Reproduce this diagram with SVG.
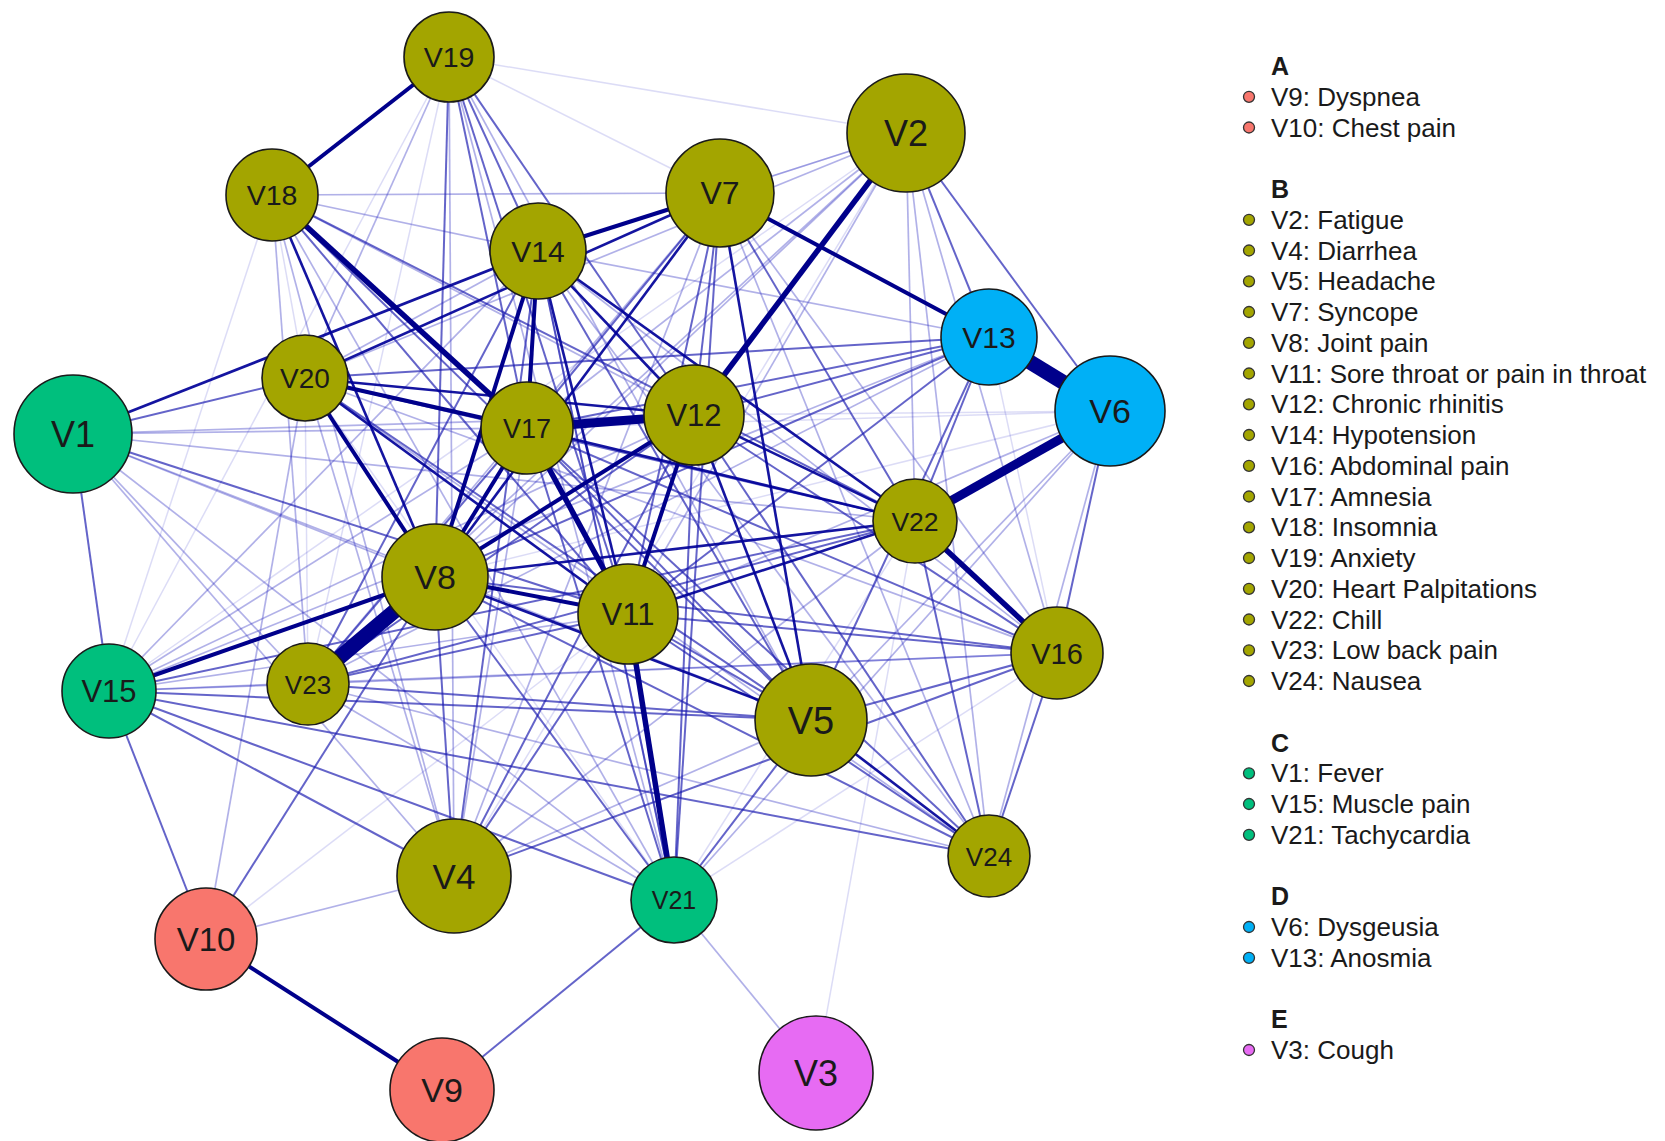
<svg xmlns="http://www.w3.org/2000/svg" width="1665" height="1141" viewBox="0 0 1665 1141">
<style>
text{font-family:"Liberation Sans",Arial,sans-serif;fill:#1a1a1a}
.n text{text-anchor:middle}
circle.nd{stroke:#1a1a1a;stroke-width:1.6}
.A{fill:#F8766D}.B{fill:#A3A500}.C{fill:#00BF7D}.D{fill:#00B0F6}.E{fill:#E76BF3}
line{stroke-linecap:butt}
.c1{stroke:#3030c8;stroke-opacity:.17;stroke-width:1.5}
.c2{stroke:#2828c0;stroke-opacity:.36;stroke-width:1.7}
.c3{stroke:#1a1ab0;stroke-opacity:.68;stroke-width:2}
.c4{stroke:#000098;stroke-opacity:.92;stroke-width:2.6}
.c5{stroke:#00008b;stroke-width:4}
.c6{stroke:#00008b;stroke-width:5.5}
.c7{stroke:#00008b;stroke-width:9}
.c8{stroke:#00008b;stroke-width:15}
.lg text{font-size:26px}
.lg .h{font-weight:bold;font-size:25px}
.lg circle{stroke:#333;stroke-width:1.3}
</style>
<rect width="1665" height="1141" fill="#fff"/>
<g id="edges">
<g class="c1">
<line x1="449" y1="57" x2="906" y2="133"/>
<line x1="449" y1="57" x2="720" y2="193"/>
<line x1="816" y1="1073" x2="915" y2="521"/>
<line x1="906" y1="133" x2="538" y2="251"/>
<line x1="906" y1="133" x2="109" y2="691"/>
<line x1="906" y1="133" x2="454" y2="876"/>
<line x1="1110" y1="411" x2="527" y2="428"/>
<line x1="1110" y1="411" x2="694" y2="415"/>
<line x1="449" y1="57" x2="308" y2="684"/>
<line x1="449" y1="57" x2="109" y2="691"/>
<line x1="305" y1="378" x2="308" y2="684"/>
<line x1="305" y1="378" x2="674" y2="900"/>
<line x1="674" y1="900" x2="915" y2="521"/>
<line x1="674" y1="900" x2="1057" y2="653"/>
<line x1="272" y1="195" x2="109" y2="691"/>
<line x1="272" y1="195" x2="305" y2="378"/>
<line x1="1110" y1="411" x2="435" y2="577"/>
<line x1="206" y1="939" x2="628" y2="614"/>
<line x1="989" y1="337" x2="1057" y2="653"/>
</g>
<g class="c2">
<line x1="73" y1="434" x2="527" y2="428"/>
<line x1="73" y1="434" x2="454" y2="876"/>
<line x1="73" y1="434" x2="811" y2="720"/>
<line x1="206" y1="939" x2="454" y2="876"/>
<line x1="906" y1="133" x2="915" y2="521"/>
<line x1="906" y1="133" x2="720" y2="193"/>
<line x1="906" y1="133" x2="989" y2="856"/>
<line x1="906" y1="133" x2="1057" y2="653"/>
<line x1="906" y1="133" x2="527" y2="428"/>
<line x1="906" y1="133" x2="435" y2="577"/>
<line x1="906" y1="133" x2="305" y2="378"/>
<line x1="906" y1="133" x2="308" y2="684"/>
<line x1="816" y1="1073" x2="674" y2="900"/>
<line x1="1110" y1="411" x2="811" y2="720"/>
<line x1="1110" y1="411" x2="628" y2="614"/>
<line x1="1110" y1="411" x2="989" y2="856"/>
<line x1="674" y1="900" x2="1110" y2="411"/>
<line x1="449" y1="57" x2="305" y2="378"/>
<line x1="449" y1="57" x2="811" y2="720"/>
<line x1="449" y1="57" x2="674" y2="900"/>
<line x1="449" y1="57" x2="454" y2="876"/>
<line x1="272" y1="195" x2="720" y2="193"/>
<line x1="272" y1="195" x2="538" y2="251"/>
<line x1="272" y1="195" x2="308" y2="684"/>
<line x1="272" y1="195" x2="454" y2="876"/>
<line x1="272" y1="195" x2="674" y2="900"/>
<line x1="109" y1="691" x2="527" y2="428"/>
<line x1="109" y1="691" x2="538" y2="251"/>
<line x1="109" y1="691" x2="694" y2="415"/>
<line x1="109" y1="691" x2="628" y2="614"/>
<line x1="109" y1="691" x2="1057" y2="653"/>
<line x1="109" y1="691" x2="308" y2="684"/>
<line x1="308" y1="684" x2="1057" y2="653"/>
<line x1="308" y1="684" x2="989" y2="856"/>
<line x1="308" y1="684" x2="720" y2="193"/>
<line x1="308" y1="684" x2="674" y2="900"/>
<line x1="454" y1="876" x2="527" y2="428"/>
<line x1="454" y1="876" x2="720" y2="193"/>
<line x1="454" y1="876" x2="305" y2="378"/>
<line x1="454" y1="876" x2="915" y2="521"/>
<line x1="454" y1="876" x2="811" y2="720"/>
<line x1="989" y1="337" x2="538" y2="251"/>
<line x1="989" y1="337" x2="109" y2="691"/>
<line x1="989" y1="337" x2="308" y2="684"/>
<line x1="538" y1="251" x2="305" y2="378"/>
<line x1="538" y1="251" x2="1057" y2="653"/>
<line x1="538" y1="251" x2="674" y2="900"/>
<line x1="989" y1="856" x2="538" y2="251"/>
<line x1="989" y1="856" x2="305" y2="378"/>
<line x1="206" y1="939" x2="305" y2="378"/>
<line x1="73" y1="434" x2="308" y2="684"/>
<line x1="73" y1="434" x2="674" y2="900"/>
<line x1="73" y1="434" x2="435" y2="577"/>
<line x1="73" y1="434" x2="694" y2="415"/>
<line x1="73" y1="434" x2="915" y2="521"/>
<line x1="1057" y1="653" x2="305" y2="378"/>
<line x1="694" y1="415" x2="272" y2="195"/>
<line x1="720" y1="193" x2="1057" y2="653"/>
<line x1="720" y1="193" x2="989" y2="856"/>
<line x1="628" y1="614" x2="906" y2="133"/>
</g>
<g class="c3">
<line x1="73" y1="434" x2="305" y2="378"/>
<line x1="73" y1="434" x2="109" y2="691"/>
<line x1="109" y1="691" x2="206" y2="939"/>
<line x1="206" y1="939" x2="435" y2="577"/>
<line x1="442" y1="1090" x2="674" y2="900"/>
<line x1="454" y1="876" x2="538" y2="251"/>
<line x1="454" y1="876" x2="694" y2="415"/>
<line x1="454" y1="876" x2="628" y2="614"/>
<line x1="454" y1="876" x2="435" y2="577"/>
<line x1="454" y1="876" x2="109" y2="691"/>
<line x1="454" y1="876" x2="1057" y2="653"/>
<line x1="109" y1="691" x2="811" y2="720"/>
<line x1="109" y1="691" x2="989" y2="856"/>
<line x1="109" y1="691" x2="674" y2="900"/>
<line x1="811" y1="720" x2="538" y2="251"/>
<line x1="811" y1="720" x2="527" y2="428"/>
<line x1="811" y1="720" x2="1057" y2="653"/>
<line x1="811" y1="720" x2="272" y2="195"/>
<line x1="811" y1="720" x2="305" y2="378"/>
<line x1="628" y1="614" x2="989" y2="856"/>
<line x1="628" y1="614" x2="1057" y2="653"/>
<line x1="989" y1="337" x2="694" y2="415"/>
<line x1="989" y1="337" x2="527" y2="428"/>
<line x1="989" y1="337" x2="305" y2="378"/>
<line x1="989" y1="337" x2="435" y2="577"/>
<line x1="989" y1="337" x2="628" y2="614"/>
<line x1="989" y1="337" x2="811" y2="720"/>
<line x1="989" y1="337" x2="915" y2="521"/>
<line x1="906" y1="133" x2="989" y2="337"/>
<line x1="906" y1="133" x2="1110" y2="411"/>
<line x1="1110" y1="411" x2="1057" y2="653"/>
<line x1="1057" y1="653" x2="989" y2="856"/>
<line x1="915" y1="521" x2="989" y2="856"/>
<line x1="915" y1="521" x2="305" y2="378"/>
<line x1="915" y1="521" x2="272" y2="195"/>
<line x1="915" y1="521" x2="308" y2="684"/>
<line x1="915" y1="521" x2="109" y2="691"/>
<line x1="449" y1="57" x2="435" y2="577"/>
<line x1="449" y1="57" x2="538" y2="251"/>
<line x1="449" y1="57" x2="694" y2="415"/>
<line x1="449" y1="57" x2="628" y2="614"/>
<line x1="449" y1="57" x2="527" y2="428"/>
<line x1="720" y1="193" x2="674" y2="900"/>
<line x1="720" y1="193" x2="628" y2="614"/>
<line x1="720" y1="193" x2="527" y2="428"/>
<line x1="720" y1="193" x2="915" y2="521"/>
<line x1="720" y1="193" x2="694" y2="415"/>
<line x1="527" y1="428" x2="989" y2="856"/>
<line x1="694" y1="415" x2="989" y2="856"/>
<line x1="435" y1="577" x2="1057" y2="653"/>
<line x1="435" y1="577" x2="989" y2="856"/>
<line x1="308" y1="684" x2="694" y2="415"/>
<line x1="308" y1="684" x2="527" y2="428"/>
<line x1="308" y1="684" x2="628" y2="614"/>
<line x1="308" y1="684" x2="538" y2="251"/>
<line x1="308" y1="684" x2="811" y2="720"/>
<line x1="674" y1="900" x2="435" y2="577"/>
<line x1="674" y1="900" x2="527" y2="428"/>
<line x1="674" y1="900" x2="694" y2="415"/>
<line x1="674" y1="900" x2="538" y2="251"/>
<line x1="674" y1="900" x2="811" y2="720"/>
<line x1="272" y1="195" x2="628" y2="614"/>
<line x1="73" y1="434" x2="628" y2="614"/>
<line x1="1057" y1="653" x2="694" y2="415"/>
<line x1="1057" y1="653" x2="527" y2="428"/>
<line x1="811" y1="720" x2="628" y2="614"/>
</g>
<g class="c4">
<line x1="538" y1="251" x2="628" y2="614"/>
<line x1="538" y1="251" x2="694" y2="415"/>
<line x1="305" y1="378" x2="694" y2="415"/>
<line x1="305" y1="378" x2="720" y2="193"/>
<line x1="73" y1="434" x2="538" y2="251"/>
<line x1="305" y1="378" x2="628" y2="614"/>
<line x1="435" y1="577" x2="915" y2="521"/>
<line x1="694" y1="415" x2="915" y2="521"/>
<line x1="527" y1="428" x2="915" y2="521"/>
<line x1="720" y1="193" x2="435" y2="577"/>
<line x1="720" y1="193" x2="811" y2="720"/>
<line x1="811" y1="720" x2="989" y2="856"/>
<line x1="538" y1="251" x2="915" y2="521"/>
<line x1="694" y1="415" x2="811" y2="720"/>
<line x1="272" y1="195" x2="435" y2="577"/>
<line x1="628" y1="614" x2="915" y2="521"/>
<line x1="435" y1="577" x2="811" y2="720"/>
</g>
<g class="c5">
<line x1="449" y1="57" x2="272" y2="195"/>
<line x1="206" y1="939" x2="442" y2="1090"/>
<line x1="435" y1="577" x2="109" y2="691"/>
<line x1="694" y1="415" x2="628" y2="614"/>
<line x1="435" y1="577" x2="694" y2="415"/>
<line x1="435" y1="577" x2="527" y2="428"/>
<line x1="435" y1="577" x2="538" y2="251"/>
<line x1="538" y1="251" x2="720" y2="193"/>
<line x1="538" y1="251" x2="527" y2="428"/>
<line x1="305" y1="378" x2="527" y2="428"/>
<line x1="435" y1="577" x2="628" y2="614"/>
<line x1="720" y1="193" x2="989" y2="337"/>
<line x1="305" y1="378" x2="435" y2="577"/>
</g>
<g class="c6">
<line x1="272" y1="195" x2="527" y2="428"/>
<line x1="915" y1="521" x2="1057" y2="653"/>
<line x1="628" y1="614" x2="674" y2="900"/>
<line x1="906" y1="133" x2="694" y2="415"/>
<line x1="527" y1="428" x2="628" y2="614"/>
</g>
<g class="c7">
<line x1="1110" y1="411" x2="915" y2="521"/>
<line x1="527" y1="428" x2="694" y2="415"/>
</g>
<g class="c8">
<line x1="989" y1="337" x2="1110" y2="411"/>
<line x1="435" y1="577" x2="308" y2="684"/>
</g>
</g>
<g class="n">
<g id="V1"><circle class="nd C" cx="73" cy="434" r="59"/><text x="73" y="447" font-size="36">V1</text></g>
<g id="V2"><circle class="nd B" cx="906" cy="133" r="59"/><text x="906" y="146" font-size="36">V2</text></g>
<g id="V3"><circle class="nd E" cx="816" cy="1073" r="57"/><text x="816" y="1086" font-size="36">V3</text></g>
<g id="V4"><circle class="nd B" cx="454" cy="876" r="57"/><text x="454" y="889" font-size="35">V4</text></g>
<g id="V5"><circle class="nd B" cx="811" cy="720" r="56"/><text x="811" y="734" font-size="38">V5</text></g>
<g id="V6"><circle class="nd D" cx="1110" cy="411" r="55"/><text x="1110" y="423" font-size="34">V6</text></g>
<g id="V7"><circle class="nd B" cx="720" cy="193" r="54"/><text x="720" y="204" font-size="32">V7</text></g>
<g id="V8"><circle class="nd B" cx="435" cy="577" r="53"/><text x="435" y="589" font-size="34">V8</text></g>
<g id="V9"><circle class="nd A" cx="442" cy="1090" r="52"/><text x="442" y="1102" font-size="34">V9</text></g>
<g id="V10"><circle class="nd A" cx="206" cy="939" r="51"/><text x="206" y="951" font-size="33">V10</text></g>
<g id="V11"><circle class="nd B" cx="628" cy="614" r="50"/><text x="628" y="625" font-size="31">V11</text></g>
<g id="V12"><circle class="nd B" cx="694" cy="415" r="50"/><text x="694" y="426" font-size="31">V12</text></g>
<g id="V13"><circle class="nd D" cx="989" cy="337" r="48"/><text x="989" y="348" font-size="30">V13</text></g>
<g id="V14"><circle class="nd B" cx="538" cy="251" r="48"/><text x="538" y="262" font-size="30">V14</text></g>
<g id="V15"><circle class="nd C" cx="109" cy="691" r="47"/><text x="109" y="702" font-size="31">V15</text></g>
<g id="V16"><circle class="nd B" cx="1057" cy="653" r="46"/><text x="1057" y="664" font-size="29">V16</text></g>
<g id="V17"><circle class="nd B" cx="527" cy="428" r="46"/><text x="527" y="438" font-size="27">V17</text></g>
<g id="V18"><circle class="nd B" cx="272" cy="195" r="46"/><text x="272" y="205" font-size="28.5">V18</text></g>
<g id="V19"><circle class="nd B" cx="449" cy="57" r="45"/><text x="449" y="67" font-size="28.5">V19</text></g>
<g id="V20"><circle class="nd B" cx="305" cy="378" r="43"/><text x="305" y="388" font-size="28">V20</text></g>
<g id="V21"><circle class="nd C" cx="674" cy="900" r="43"/><text x="674" y="909" font-size="25">V21</text></g>
<g id="V22"><circle class="nd B" cx="915" cy="521" r="42"/><text x="915" y="531" font-size="26.5">V22</text></g>
<g id="V23"><circle class="nd B" cx="308" cy="684" r="41"/><text x="308" y="694" font-size="26">V23</text></g>
<g id="V24"><circle class="nd B" cx="989" cy="856" r="41"/><text x="989" y="866" font-size="26">V24</text></g>
</g>
<g id="legend" class="lg">
<text class="h" x="1271" y="75">A</text>
<circle class="A" cx="1249" cy="96.8" r="5.5"/><text x="1271" y="106">V9: Dyspnea</text>
<circle class="A" cx="1249" cy="127.5" r="5.5"/><text x="1271" y="136.5">V10: Chest pain</text>
<text class="h" x="1271" y="198">B</text>
<circle class="B" cx="1249" cy="219.8" r="5.5"/><text x="1271" y="229">V2: Fatigue</text>
<circle class="B" cx="1249" cy="250.5" r="5.5"/><text x="1271" y="259.5">V4: Diarrhea</text>
<circle class="B" cx="1249" cy="281.3" r="5.5"/><text x="1271" y="290.3">V5: Headache</text>
<circle class="B" cx="1249" cy="312" r="5.5"/><text x="1271" y="321">V7: Syncope</text>
<circle class="B" cx="1249" cy="342.8" r="5.5"/><text x="1271" y="351.8">V8: Joint pain</text>
<circle class="B" cx="1249" cy="373.5" r="5.5"/><text x="1271" y="382.5">V11: Sore throat or pain in throat</text>
<circle class="B" cx="1249" cy="404.3" r="5.5"/><text x="1271" y="413.3">V12: Chronic rhinitis</text>
<circle class="B" cx="1249" cy="435" r="5.5"/><text x="1271" y="444">V14: Hypotension</text>
<circle class="B" cx="1249" cy="465.8" r="5.5"/><text x="1271" y="474.8">V16: Abdominal pain</text>
<circle class="B" cx="1249" cy="496.5" r="5.5"/><text x="1271" y="505.5">V17: Amnesia</text>
<circle class="B" cx="1249" cy="527.3" r="5.5"/><text x="1271" y="536.3">V18: Insomnia</text>
<circle class="B" cx="1249" cy="558" r="5.5"/><text x="1271" y="567">V19: Anxiety</text>
<circle class="B" cx="1249" cy="588.8" r="5.5"/><text x="1271" y="597.8">V20: Heart Palpitations</text>
<circle class="B" cx="1249" cy="619.5" r="5.5"/><text x="1271" y="628.5">V22: Chill</text>
<circle class="B" cx="1249" cy="650.3" r="5.5"/><text x="1271" y="659.3">V23: Low back pain</text>
<circle class="B" cx="1249" cy="681" r="5.5"/><text x="1271" y="690">V24: Nausea</text>
<text class="h" x="1271" y="751.5">C</text>
<circle class="C" cx="1249" cy="773.3" r="5.5"/><text x="1271" y="782.3">V1: Fever</text>
<circle class="C" cx="1249" cy="804" r="5.5"/><text x="1271" y="813">V15: Muscle pain</text>
<circle class="C" cx="1249" cy="834.8" r="5.5"/><text x="1271" y="843.8">V21: Tachycardia</text>
<text class="h" x="1271" y="905.3">D</text>
<circle class="D" cx="1249" cy="927" r="5.5"/><text x="1271" y="936">V6: Dysgeusia</text>
<circle class="D" cx="1249" cy="957.8" r="5.5"/><text x="1271" y="966.8">V13: Anosmia</text>
<text class="h" x="1271" y="1028.3">E</text>
<circle class="E" cx="1249" cy="1050" r="5.5"/><text x="1271" y="1059">V3: Cough</text>
</g>
</svg>
